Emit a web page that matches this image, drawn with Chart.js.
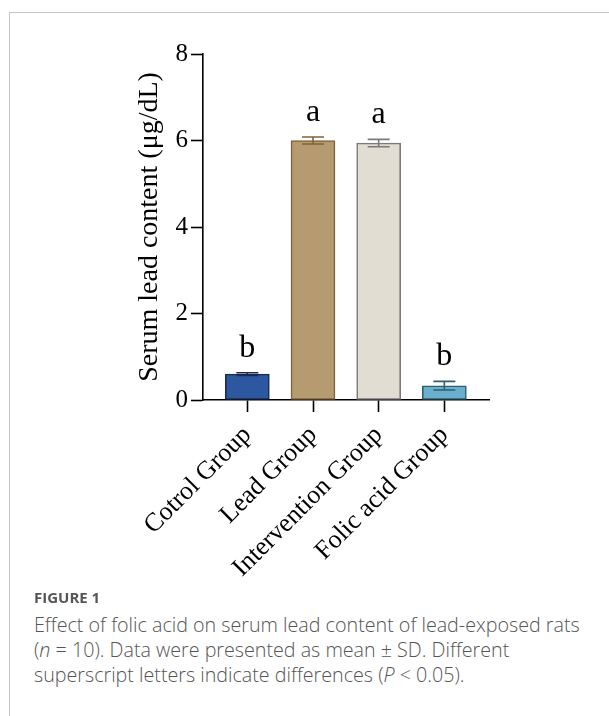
<!DOCTYPE html>
<html>
<head>
<meta charset="utf-8">
<script src="https://cdn.jsdelivr.net/npm/chart.js@4"></script>
<style>
  html, body { margin: 0; padding: 0; background: #fff; }
  body { width: 609px; height: 716px; position: relative; overflow: hidden; }
  .card {
    position: absolute; left: 9px; top: 12px; width: 700px; height: 800px;
    border-left: 1px solid #c4c4c4; border-top: 1px solid #c4c4c4;
  }
  #chart { position: absolute; left: 0; top: 0; }
  .fig-label {
    position: absolute; left: 34px; top: 587px;
    font-family: "Open Sans", sans-serif; font-weight: 700; font-size: 15px;
    color: #555;
  }
  .caption {
    position: absolute; left: 34px; top: 612px; width: 574px;
    font-family: "Open Sans", sans-serif; font-weight: 300; font-size: 19.7px;
    line-height: 25px; color: #555;
  }
</style>
</head>
<body>
<div class="card"></div>
<canvas id="chart" width="609" height="600"></canvas>
<div class="fig-label">FIGURE 1</div>
<div class="caption">Effect of folic acid on serum lead content of lead-exposed rats<br>(<i>n</i> = 10). Data were presented as mean ± SD. Different<br>superscript letters indicate differences (<i>P</i> &lt; 0.05).</div>

<script>
// ----------------------------------------------------------------------------
// Data
// ----------------------------------------------------------------------------
const groups = ['Cotrol Group', 'Lead Group', 'Intervention Group', 'Folic acid Group'];
const means = [0.60, 6.00, 5.94, 0.33];
const sds = [0.03, 0.08, 0.085, 0.10];
const letters = ['b', 'a', 'a', 'b'];
const yTicks = [0, 2, 4, 6, 8];

const fillColors = ['#2e57a2', '#b59b6f', '#e2ddd2', '#6aafcb'];
const edgeColors = ['#1b2b4f', '#7f6438', '#7a7a7a', '#2f5e70'];

const serif = "'Times New Roman', 'Liberation Serif', serif";

// error bars + significance letters
const errorBarPlugin = {
  id: 'errorBars',
  afterDatasetsDraw(chart) {
    const { ctx, scales: { x, y } } = chart;
    ctx.save();
    groups.forEach((g, i) => {
      const cx = x.getPixelForValue(i);
      const top = y.getPixelForValue(means[i] + sds[i]);
      const bot = y.getPixelForValue(means[i] - sds[i]);
      const half = 11;
      ctx.strokeStyle = edgeColors[i];
      ctx.lineWidth = 1.6;
      ctx.beginPath();
      ctx.moveTo(cx, top); ctx.lineTo(cx, bot);
      ctx.moveTo(cx - half, top); ctx.lineTo(cx + half, top);
      ctx.moveTo(cx - half, bot); ctx.lineTo(cx + half, bot);
      ctx.stroke();

      ctx.fillStyle = '#000';
      ctx.font = '32px ' + serif;
      ctx.textAlign = 'center';
      ctx.textBaseline = 'alphabetic';
      ctx.fillText(letters[i], cx, top - 16);
    });
    ctx.restore();
  }
};

const ctx = document.getElementById('chart').getContext('2d');

new Chart(ctx, {
  type: 'bar',
  data: {
    datasets: [{
      data: means.map((v, i) => ({ x: i, y: v })),
      backgroundColor: fillColors,
      borderColor: edgeColors,
      borderWidth: 1.6,
      borderSkipped: false,
      barThickness: 44
    }]
  },
  options: {
    responsive: false,
    animation: false,
    events: [],
    layout: { padding: { top: 54, left: 0, right: 120, bottom: 0 } },
    plugins: {
      legend: { display: false },
      tooltip: { enabled: false }
    },
    scales: {
      x: {
        type: 'linear',
        offset: false,
        min: -0.675,
        max: 3.68,
        afterBuildTicks: (scale) => {
          scale.ticks = groups.map((g, i) => ({ value: i }));
        },
        afterFit: (scale) => { scale.height = 200; },
        grid: {
          display: true,
          offset: false,
          drawOnChartArea: false,
          drawTicks: true,
          tickLength: 12,
          tickColor: '#000',
          tickWidth: 1.6
        },
        border: { display: true, color: '#000', width: 1.6 },
        ticks: {
          autoSkip: false,
          minRotation: 45,
          maxRotation: 45,
          padding: 8,
          color: '#000',
          font: { family: serif, size: 26 },
          callback: (v) => groups[v] ?? ''
        }
      },
      y: {
        min: 0,
        max: 8,
        afterBuildTicks: (scale) => {
          scale.ticks = yTicks.map(v => ({ value: v }));
        },
        afterFit: (scale) => { scale.width = 203; },
        grid: {
          display: true,
          drawOnChartArea: false,
          drawTicks: true,
          tickLength: 12,
          tickColor: '#000',
          tickWidth: 1.6
        },
        border: { display: true, color: '#000', width: 1.6 },
        ticks: {
          padding: 3,
          color: '#000',
          font: { family: serif, size: 25 }
        },
        title: {
          display: true,
          text: 'Serum lead content (μg/dL)',
          color: '#000',
          font: { family: serif, size: 28 },
          padding: { top: 133, bottom: 0 }
        }
      }
    }
  },
  plugins: [errorBarPlugin]
});
</script>
</body>
</html>
